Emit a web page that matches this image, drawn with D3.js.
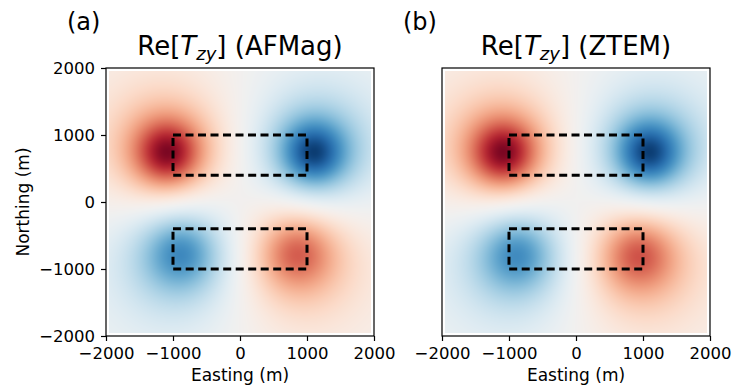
<!DOCTYPE html>
<html>
<head>
<meta charset="utf-8">
<script src="https://cdn.jsdelivr.net/npm/d3@7"></script>
<style>
  body { margin: 0; background: #fff; }
  svg text { font-family: "DejaVu Sans", sans-serif; fill: #000; }
</style>
</head>
<body>
<svg id="fig" width="735" height="389"></svg>
<script>
// Axis ticks (metres)
const eastingTicks = [-2000, -1000, 0, 1000, 2000];
const northingTicks = [-2000, -1000, 0, 1000, 2000];

// Conductor outlines (metres)
const blockEastMin = [-1000, -1000];
const blockEastMax = [1000, 1000];
const blockNorthMin = [400, -1000];
const blockNorthMax = [1000, -400];

// Anomaly lobes of Re[Tzy]: centre (m), peak value, radius (m)
const afmagLobeEasting = [-1080, 1100, -880, 850];
const afmagLobeNorthing = [730, 730, -760, -760];
const afmagLobePeak = [-1.1, 1.1, 0.84, -0.8];
const afmagLobeRadius = [560, 560, 700, 700];

const ztemLobeEasting = [-1080, 1090, -880, 930];
const ztemLobeNorthing = [730, 730, -780, -790];
const ztemLobePeak = [-1.1, 1.1, 0.82, -0.82];
const ztemLobeRadius = [560, 560, 700, 700];

// Grid extent of the modelled response (m)
const gridHalfWidth = 1960;

const panels = [
  { tag: "(a)", name: "AFMag", left: 106, tagX: 67, yAxis: true,
    east: afmagLobeEasting, north: afmagLobeNorthing, peak: afmagLobePeak, radius: afmagLobeRadius },
  { tag: "(b)", name: "ZTEM", left: 442, tagX: 403, yAxis: false,
    east: ztemLobeEasting, north: ztemLobeNorthing, peak: ztemLobePeak, radius: ztemLobeRadius }
];

const svg = d3.select("#fig");
const plotTop = 68, size = 268;
const color = d3.scaleSequential(d3.interpolateRdBu).domain([-1, 1]).clamp(true);
const tickFmt = d3.format("d");

function response(p, e, n) {
  let v = 0;
  for (let i = 0; i < p.east.length; i++) {
    const dx = e - p.east[i], dy = n - p.north[i];
    const q = (dx * dx + dy * dy) / (p.radius[i] * p.radius[i]);
    v += p.peak[i] / (1 + q);
  }
  return v;
}

panels.forEach(p => {
  const x = d3.scaleLinear().domain([-2000, 2000]).range([p.left, p.left + size]);
  const y = d3.scaleLinear().domain([-2000, 2000]).range([plotTop + size, plotTop]);
  const g = svg.append("g");

  // heat map raster
  const canvas = document.createElement("canvas");
  canvas.width = size; canvas.height = size;
  const ctx = canvas.getContext("2d");
  const img = ctx.createImageData(size, size);
  for (let j = 0; j < size; j++) {
    const n = y.invert(plotTop + j + 0.5);
    for (let i = 0; i < size; i++) {
      const e = x.invert(p.left + i + 0.5);
      const k = (j * size + i) * 4;
      if (Math.abs(e) > gridHalfWidth || Math.abs(n) > gridHalfWidth) {
        img.data[k] = 255; img.data[k + 1] = 255; img.data[k + 2] = 255; img.data[k + 3] = 255;
        continue;
      }
      const c = d3.rgb(color(response(p, e, n)));
      img.data[k] = c.r; img.data[k + 1] = c.g; img.data[k + 2] = c.b; img.data[k + 3] = 255;
    }
  }
  ctx.putImageData(img, 0, 0);
  g.append("image")
    .attr("x", p.left).attr("y", plotTop)
    .attr("width", size).attr("height", size)
    .attr("href", canvas.toDataURL());

  // conductor outlines
  blockEastMin.forEach((_, b) => {
    const x0 = x(blockEastMin[b]), x1 = x(blockEastMax[b]);
    const y0 = y(blockNorthMax[b]), y1 = y(blockNorthMin[b]);
    g.append("path")
      .attr("d", `M${x0},${y0}H${x1}V${y1}H${x0}Z`)
      .attr("fill", "none").attr("stroke", "#000")
      .attr("stroke-width", 3).attr("stroke-dasharray", "8,4.5");
  });

  // axes
  const xa = g.append("g").attr("transform", `translate(0,${plotTop + size})`)
    .call(d3.axisBottom(x).tickValues(eastingTicks).tickFormat(tickFmt)
      .tickSize(5).tickPadding(6).tickSizeOuter(0));
  xa.select(".domain").remove();
  xa.selectAll("text").attr("font-size", 16.5).attr("font-family", "DejaVu Sans");
  xa.selectAll("line").attr("stroke-width", 1.2);

  if (p.yAxis) {
    const ya = g.append("g").attr("transform", `translate(${p.left},0)`)
      .call(d3.axisLeft(y).tickValues(northingTicks).tickFormat(tickFmt)
        .tickSize(5).tickPadding(6).tickSizeOuter(0));
    ya.select(".domain").remove();
    ya.selectAll("text").attr("font-size", 16.5).attr("font-family", "DejaVu Sans");
    ya.selectAll("line").attr("stroke-width", 1.2);

    g.append("text")
      .attr("transform", `translate(29,${plotTop + size / 2}) rotate(-90)`)
      .attr("text-anchor", "middle").attr("font-size", 17)
      .text("Northing (m)");
  }

  g.append("rect")
    .attr("x", p.left).attr("y", plotTop).attr("width", size).attr("height", size)
    .attr("fill", "none").attr("stroke", "#000").attr("stroke-width", 1.2);

  g.append("text")
    .attr("x", p.left + size / 2).attr("y", 381)
    .attr("text-anchor", "middle").attr("font-size", 17)
    .text("Easting (m)");

  // panel title with math-style T_zy
  const t = g.append("text")
    .attr("x", p.left + size / 2).attr("y", 55)
    .attr("text-anchor", "middle").attr("font-size", 26);
  t.append("tspan").text("Re[");
  t.append("tspan").attr("font-style", "italic").text("T");
  t.append("tspan").attr("font-style", "italic").attr("font-size", 18).attr("dy", 5).text("zy");
  t.append("tspan").attr("dy", -5).text(`] (${p.name})`);

  g.append("text")
    .attr("x", p.tagX).attr("y", 30)
    .attr("font-size", 24)
    .text(p.tag);
});
</script>
</body>
</html>
